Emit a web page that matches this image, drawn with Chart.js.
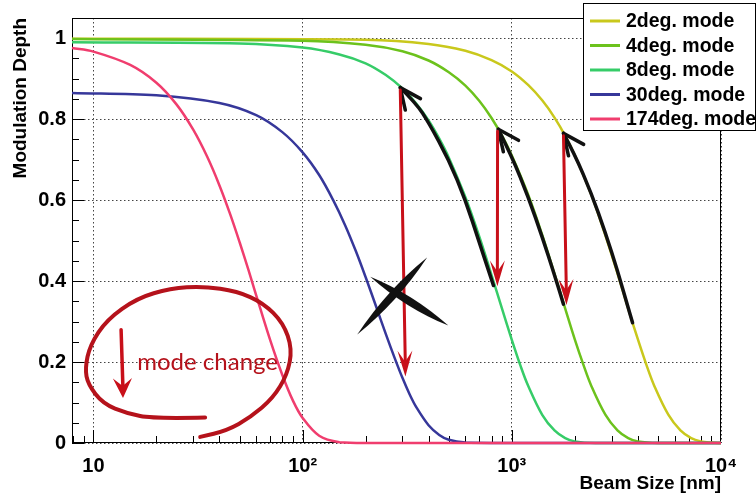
<!DOCTYPE html>
<html lang="en">
<head>
<meta charset="UTF-8">
<title>Modulation Depth vs Beam Size</title>
<script src="https://cdn.jsdelivr.net/npm/chart.js"></script>
<style>
    body { margin: 0; background: #fff; }
    canvas { display: block; }
</style>
</head>
<body>
<canvas id="depthChart" width="756" height="495"></canvas>
<script>
// beam size [nm] vs modulation depth
const size2 = [7.9, 200, 400, 600, 800, 1000, 1200, 1400, 1600, 1800, 2000, 2400, 2800, 3200, 3600, 4000, 4400, 4800, 5600, 6400, 7200, 8000, 9000, 10000];
const depth2 = [0.999, 0.996, 0.986, 0.969, 0.946, 0.918, 0.884, 0.846, 0.804, 0.759, 0.711, 0.613, 0.513, 0.419, 0.332, 0.257, 0.193, 0.141, 0.070, 0.031, 0.012, 0.004, 0.001, 0];

const size4 = [7.9, 100, 200, 300, 400, 500, 600, 700, 800, 900, 1000, 1200, 1400, 1600, 1800, 2000, 2200, 2400, 2800, 3200, 3600, 4000, 5000, 10000];
const depth4 = [0.998, 0.994, 0.984, 0.968, 0.945, 0.916, 0.883, 0.845, 0.803, 0.758, 0.710, 0.612, 0.513, 0.418, 0.332, 0.256, 0.193, 0.141, 0.070, 0.031, 0.012, 0.004, 0, 0];

const size8 = [7.9, 50, 100, 150, 200, 250, 300, 350, 400, 450, 500, 600, 700, 800, 900, 1000, 1100, 1200, 1400, 1600, 1800, 2000, 2500, 10000];
const depth8 = [0.990, 0.987, 0.977, 0.960, 0.938, 0.909, 0.876, 0.838, 0.797, 0.752, 0.705, 0.607, 0.509, 0.415, 0.330, 0.255, 0.191, 0.140, 0.069, 0.031, 0.012, 0.004, 0, 0];

const size30 = [7.9, 20, 40, 60, 80, 100, 120, 140, 160, 180, 200, 225, 250, 275, 300, 325, 350, 400, 450, 500, 600, 800, 10000];
const depth30 = [0.865, 0.859, 0.840, 0.810, 0.768, 0.718, 0.662, 0.600, 0.537, 0.473, 0.410, 0.336, 0.269, 0.211, 0.161, 0.120, 0.088, 0.044, 0.020, 0.008, 0.001, 0, 0];

const size174 = [7.9, 10, 15, 20, 25, 30, 35, 40, 45, 50, 55, 60, 70, 80, 90, 100, 120, 150, 200, 10000];
const depth174 = [0.976, 0.967, 0.934, 0.890, 0.836, 0.774, 0.707, 0.637, 0.566, 0.496, 0.429, 0.365, 0.254, 0.168, 0.104, 0.062, 0.018, 0.002, 0, 0];

const modeLabels = ['2deg. mode', '4deg. mode', '8deg. mode', '30deg. mode', '174deg. mode'];
const modeColors = ['#c9c81c', '#6cc21c', '#36cc68', '#36379a', '#f03d6e'];

const xTickValues = [10, 100, 1000, 10000];
const xTickLabels = ['10', '10²', '10³', '10⁴'];
const yTickValues = [0, 0.2, 0.4, 0.6, 0.8, 1];
const yTickLabels = ['0', '0.2', '0.4', '0.6', '0.8', '1'];

// hand drawn notes (data coordinates)
const blackArrows = [
    { x: [293, 350, 400, 500, 600, 700, 817], y: [0.878, 0.838, 0.792, 0.700, 0.600, 0.495, 0.389] },
    { x: [862, 1000, 1200, 1400, 1600, 1766], y: [0.775, 0.708, 0.607, 0.508, 0.415, 0.343] },
    { x: [1766, 2000, 2400, 2800, 3200, 3600, 3778], y: [0.765, 0.713, 0.617, 0.520, 0.426, 0.334, 0.297] }
];
const redArrows = [
    { x: [293, 310], y: [0.872, 0.164] },
    { x: [855, 853], y: [0.770, 0.387] },
    { x: [1766, 1825], y: [0.759, 0.341] },
    { x: [13.56, 13.85], y: [0.280, 0.111] }
];
const loopX = [34.2, 19.3, 14.5, 11.1, 9.42, 9.12, 9.63, 11.6, 16.2, 23.3, 33.5, 48.7, 64.8, 80.8, 89.2, 84.4, 72.3, 56.2, 43.6, 32.4];
const loopY = [0.063, 0.060, 0.073, 0.097, 0.145, 0.184, 0.242, 0.305, 0.358, 0.382, 0.387, 0.375, 0.346, 0.297, 0.232, 0.169, 0.111, 0.063, 0.031, 0.015];
const crossStrokes = [
    { x: [210.6, 497.5], y: [0.411, 0.290] },
    { x: [394.5, 182.5], y: [0.459, 0.268] }
];
const noteText = { text: 'mode change', x: 16.2, y: 0.181 };

function series(xs, ys) {
    return xs.map((v, i) => ({ x: v, y: ys[i] }));
}

function smoothPath(ctx, pts) {
    ctx.moveTo(pts[0][0], pts[0][1]);
    for (let i = 1; i < pts.length - 1; i++) {
        const mx = (pts[i][0] + pts[i + 1][0]) / 2;
        const my = (pts[i][1] + pts[i + 1][1]) / 2;
        ctx.quadraticCurveTo(pts[i][0], pts[i][1], mx, my);
    }
    const last = pts[pts.length - 1];
    ctx.lineTo(last[0], last[1]);
}

function filledHead(ctx, x0, y0, x1, y1, len, spread) {
    const a = Math.atan2(y1 - y0, x1 - x0);
    ctx.beginPath();
    ctx.moveTo(x1, y1);
    ctx.lineTo(x1 - len * Math.cos(a - spread), y1 - len * Math.sin(a - spread));
    ctx.lineTo(x1 - len * 0.55 * Math.cos(a), y1 - len * 0.55 * Math.sin(a));
    ctx.lineTo(x1 - len * Math.cos(a + spread), y1 - len * Math.sin(a + spread));
    ctx.closePath();
    ctx.fill();
}

const frameAndTicks = {
    id: 'frameAndTicks',
    beforeDatasetsDraw(chart) {
        const { ctx, chartArea: a, scales: { x, y } } = chart;
        ctx.save();
        ctx.strokeStyle = '#000';
        ctx.lineWidth = 1;
        ctx.beginPath();
        for (let i = 0; i <= 20; i++) {
            const yy = Math.round(y.getPixelForValue(i * 0.05)) + 0.5;
            const len = i % 4 === 0 ? 12 : 7;
            ctx.moveTo(a.left, yy);
            ctx.lineTo(a.left + len, yy);
        }
        for (let d = 1; d <= 1000; d *= 10) {
            for (let m = 1; m <= 9; m++) {
                const v = d * m;
                if (v < x.min || v > x.max) continue;
                const xx = Math.round(x.getPixelForValue(v)) + 0.5;
                const len = m === 1 ? 13 : 7;
                ctx.moveTo(xx, a.bottom);
                ctx.lineTo(xx, a.bottom - len);
            }
        }
        ctx.stroke();
        ctx.strokeRect(a.left + 0.5, a.top + 0.5, a.right - a.left - 1, a.bottom - a.top - 1);
        ctx.restore();
    }
};

const handNotes = {
    id: 'handNotes',
    afterDatasetsDraw(chart) {
        const { ctx, scales: { x, y } } = chart;
        const toPx = (xs, ys) => xs.map((v, i) => [x.getPixelForValue(v), y.getPixelForValue(ys[i])]);
        ctx.save();
        ctx.lineCap = 'round';
        ctx.lineJoin = 'round';

        // red loop + text
        ctx.strokeStyle = '#b5121b';
        ctx.lineWidth = 4;
        ctx.beginPath();
        smoothPath(ctx, toPx(loopX, loopY));
        ctx.stroke();
        ctx.fillStyle = '#b5121b';
        ctx.font = '24px Lato';
        ctx.textBaseline = 'alphabetic';
        ctx.fillText(noteText.text, x.getPixelForValue(noteText.x), y.getPixelForValue(noteText.y));

        // black arrows along the curves, open heads at the upper end
        ctx.strokeStyle = '#111';
        ctx.lineWidth = 3.5;
        blackArrows.forEach(arr => {
            const pts = toPx(arr.x, arr.y);
            ctx.beginPath();
            smoothPath(ctx, pts);
            ctx.stroke();
            const [tx, ty] = pts[0];
            ctx.beginPath();
            [0.5, 1.35].forEach(a => {
                ctx.moveTo(tx, ty);
                ctx.lineTo(tx + 23 * Math.cos(a), ty + 23 * Math.sin(a));
            });
            ctx.stroke();
        });

        // red arrows
        ctx.strokeStyle = '#c8101a';
        ctx.fillStyle = '#c8101a';
        redArrows.forEach((arr, idx) => {
            const pts = toPx(arr.x, arr.y);
            const small = idx === 3;
            ctx.lineWidth = small ? 3.5 : 3;
            ctx.beginPath();
            ctx.moveTo(pts[0][0], pts[0][1]);
            ctx.lineTo(pts[1][0], pts[1][1] - 8);
            ctx.stroke();
            filledHead(ctx, pts[0][0], pts[0][1], pts[1][0], pts[1][1], small ? 22 : 27, small ? 0.45 : 0.28);
        });

        // black cross
        ctx.fillStyle = '#111';
        crossStrokes.forEach(s => {
            const [p1, p2] = toPx(s.x, s.y);
            const mx = (p1[0] + p2[0]) / 2, my = (p1[1] + p2[1]) / 2;
            const dx = p2[0] - p1[0], dy = p2[1] - p1[1];
            const l = Math.hypot(dx, dy);
            const nx = -dy / l * 8, ny = dx / l * 8;
            ctx.beginPath();
            ctx.moveTo(p1[0], p1[1]);
            ctx.quadraticCurveTo(mx + nx, my + ny, p2[0], p2[1]);
            ctx.quadraticCurveTo(mx - nx, my - ny, p1[0], p1[1]);
            ctx.fill();
        });
        ctx.restore();
    }
};

const boxLegend = {
    id: 'boxLegend',
    afterDraw(chart) {
        const { ctx } = chart;
        ctx.save();
        ctx.fillStyle = '#fff';
        ctx.strokeStyle = '#000';
        ctx.lineWidth = 1;
        ctx.fillRect(583.5, 3.5, 172, 127);
        ctx.strokeRect(583.5, 3.5, 172, 127);
        ctx.font = 'bold 19.5px "Liberation Sans"';
        ctx.textBaseline = 'middle';
        chart.data.datasets.forEach((ds, i) => {
            const yy = 21 + i * 24.5;
            ctx.strokeStyle = ds.borderColor;
            ctx.lineWidth = 3;
            ctx.beginPath();
            ctx.moveTo(590, yy);
            ctx.lineTo(620, yy);
            ctx.stroke();
            ctx.fillStyle = '#000';
            ctx.fillText(ds.label, 626, yy + 1);
        });
        ctx.restore();
    }
};

Chart.defaults.font.family = '"Liberation Sans", Arial, sans-serif';
Chart.defaults.color = '#000';

const curves = [[size2, depth2], [size4, depth4], [size8, depth8], [size30, depth30], [size174, depth174]];

new Chart(document.getElementById('depthChart'), {
    type: 'line',
    data: {
        datasets: curves.map((c, i) => ({
            label: modeLabels[i],
            data: series(c[0], c[1]),
            borderColor: modeColors[i],
            borderWidth: 2.5,
            pointRadius: 0,
            tension: 0.35,
            clip: 4,
            order: 5 - i
        }))
    },
    options: {
        responsive: false,
        animation: false,
        devicePixelRatio: 1,
        layout: { padding: { top: 8, right: 35, left: 0, bottom: 0 } },
        plugins: { legend: { display: false }, tooltip: { enabled: false } },
        scales: {
            x: {
                type: 'logarithmic',
                min: 7.9,
                max: 10000,
                afterBuildTicks: s => { s.ticks = xTickValues.map(v => ({ value: v })); },
                afterFit: s => { s.height = 52; },
                ticks: {
                    autoSkip: false,
                    maxRotation: 0,
                    padding: 11,
                    font: { size: 20, weight: 'bold' },
                    callback: v => xTickLabels[xTickValues.indexOf(v)]
                },
                grid: { color: '#444', drawTicks: false },
                border: { display: false, dash: [1.5, 2.5] },
                title: {
                    display: true,
                    text: 'Beam Size [nm]',
                    align: 'end',
                    padding: { top: 0, bottom: 0 },
                    font: { size: 19, weight: 'bold' }
                }
            },
            y: {
                type: 'linear',
                min: 0,
                max: 1.05,
                afterBuildTicks: s => { s.ticks = yTickValues.map(v => ({ value: v })); },
                afterFit: s => { s.width = 72; },
                ticks: {
                    padding: 6,
                    font: { size: 20, weight: 'bold' },
                    callback: v => yTickLabels[yTickValues.indexOf(v)]
                },
                grid: { color: '#444', drawTicks: false },
                border: { display: false, dash: [1.5, 2.5] },
                title: {
                    display: true,
                    text: 'Modulation Depth',
                    align: 'end',
                    padding: { top: 9, bottom: 0 },
                    font: { size: 19, weight: 'bold' }
                }
            }
        }
    },
    plugins: [frameAndTicks, handNotes, boxLegend]
});
</script>
</body>
</html>
